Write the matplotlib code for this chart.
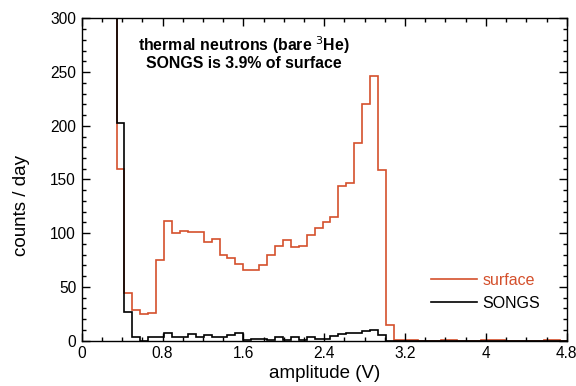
import numpy as np
import matplotlib
matplotlib.use('Agg')
import matplotlib.pyplot as plt
from matplotlib.ticker import MultipleLocator

# histogram bins (V): first bin edge and bin width
bin_start = 0.345
bin_width = 0.0784

# counts / day per bin; first value is off-scale (above 300)
surface = [1000,
           160, 44, 29, 25, 26, 75, 111, 100, 102, 101,
           101, 92, 95, 80, 77, 71, 66, 66, 70, 80,
           88, 94, 87, 88, 98, 105, 110, 115, 144, 147,
           184, 220, 246, 159, 15,
           1, 1, 1, 0, 0, 0, 1, 1, 0, 0,
           0, 1, 1, 1, 0, 0, 0, 0, 0, 1,
           1, 0]
songs = [1000,
         203, 27, 3, 0, 3, 3, 7, 3, 3, 6,
         3, 5, 3, 3, 5, 7, 1, 2, 2, 1,
         3, 1, 3, 1, 3, 2, 2, 4, 6, 7,
         7, 9, 9.5, 5, 0,
         0, 0, 0, 0, 0, 0, 0, 0, 0, 0,
         0, 0, 0, 0, 0, 0, 0, 0, 0, 0,
         0, 0]

edges = bin_start + bin_width * (np.arange(len(surface) + 1) - 1)

plt.rcParams['font.family'] = ['Liberation Sans', 'DejaVu Sans']

fig = plt.figure(figsize=(5.76, 3.86), dpi=100)
ax = fig.add_axes([0.1418, 0.1174, 0.8421, 0.8352])

red = '#d4502c'
ax.stairs(surface, edges, baseline=None, color=red, lw=1.2, label='surface')
ax.stairs(songs, edges, baseline=None, color='black', lw=1.2, label='SONGS')

ax.set_xlim(0, 4.8)
ax.set_ylim(0, 300)
ax.xaxis.set_minor_locator(MultipleLocator(0.2))
ax.yaxis.set_major_locator(MultipleLocator(50))
ax.yaxis.set_minor_locator(MultipleLocator(10))
ax.set_xticks(np.arange(0, 4.81, 0.8))
ax.set_xticklabels(['0', '0.8', '1.6', '2.4', '3.2', '4', '4.8'])
ax.tick_params(which='both', direction='in', top=True, right=True,
               labelsize=11.2, width=1)
ax.tick_params(which='major', length=6, pad=4)
ax.tick_params(which='minor', length=3)
for s in ax.spines.values():
    s.set_linewidth(1)

ax.set_xlabel('amplitude (V)', fontsize=13.5, labelpad=2.5)
ax.set_ylabel('counts / day', fontsize=13.5)
ax.yaxis.set_label_coords(-0.107, 0.42)

ax.text(0.335, 0.893, 'thermal neutrons (bare $^{3}$He)\nSONGS is 3.9% of surface',
        transform=ax.transAxes, ha='center', va='center', fontsize=11.4,
        fontweight='bold', linespacing=1.0)

leg = ax.legend(loc='lower right', bbox_to_anchor=(0.975, 0.048), frameon=False,
                fontsize=11.5, handlelength=2.9, handletextpad=0.35,
                labelspacing=0.5)
leg.get_texts()[0].set_color(red)

fig.savefig('out.png', dpi=100)
